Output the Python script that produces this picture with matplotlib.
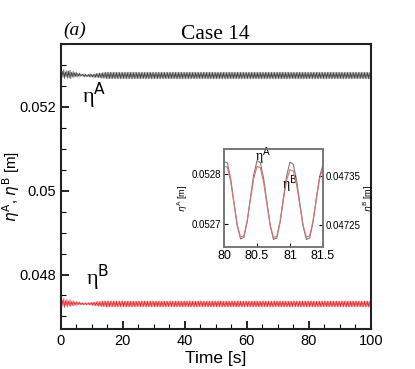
#! /usr/bin/env python3

""" Free-surface elevation at points A and B, Case 14, with a zoomed inset.
"""

import numpy as np
from matplotlib import pyplot as plt
from matplotlib.ticker import MultipleLocator

# main plot: one crest and one trough per 0.5 s wave cycle
period = 0.5
n_cycles = 200

crest_a = ([0.05288, 0.05285, 0.05289, 0.05284, 0.05287, 0.05286, 0.05288,
            0.05283, 0.05285, 0.05282, 0.05283, 0.05280, 0.05281, 0.05279,
            0.05278, 0.05279, 0.05278, 0.05277, 0.05278, 0.05279, 0.05278,
            0.05278, 0.05279, 0.05280, 0.05280, 0.05281, 0.05281, 0.05282,
            0.05282, 0.05283]
           + [0.052830, 0.052826, 0.052829, 0.052827] * 42 + [0.052828, 0.052826])
trough_a = ([0.05268, 0.05270, 0.05267, 0.05271, 0.05268, 0.05269, 0.05267,
             0.05271, 0.05270, 0.05272, 0.05271, 0.05273, 0.05272, 0.05274,
             0.05272, 0.05271, 0.05272, 0.05272, 0.05271, 0.05271, 0.05271,
             0.05270, 0.05270, 0.05270, 0.05269, 0.05269, 0.05268, 0.05268,
             0.05268, 0.05267]
            + [0.052667, 0.052670, 0.052668, 0.052671] * 42 + [0.052667, 0.052669])

crest_b = ([0.04742, 0.04739, 0.04743, 0.04738, 0.04741, 0.04737, 0.04740,
            0.04736, 0.04738, 0.04735, 0.04736, 0.04734, 0.04735, 0.04733,
            0.04733, 0.04732, 0.04733, 0.04732, 0.04733, 0.04733, 0.04734,
            0.04734, 0.04735, 0.04735, 0.04736, 0.04736, 0.04736, 0.04737,
            0.04737, 0.04737]
           + [0.047372, 0.047368, 0.047371, 0.047366] * 42 + [0.047370, 0.047367])
trough_b = ([0.04722, 0.04724, 0.04721, 0.04725, 0.04722, 0.04726, 0.04723,
             0.04726, 0.04725, 0.04727, 0.04726, 0.04728, 0.04727, 0.04728,
             0.04727, 0.04728, 0.04727, 0.04728, 0.04727, 0.04727, 0.04726,
             0.04726, 0.04725, 0.04725, 0.04724, 0.04724, 0.04723, 0.04723,
             0.04723, 0.04722]
            + [0.047225, 0.047228, 0.047226, 0.047229] * 42 + [0.047225, 0.047227])

# inset: 80 s to 81.5 s sampled every 0.05 s
inset_t = np.linspace(80.0, 81.5, 31)
inset_a = [0.052826, 0.052822, 0.052791, 0.052743, 0.052697, 0.052671,
           0.052674, 0.052705, 0.052753, 0.052799, 0.052827, 0.052823,
           0.052792, 0.052744, 0.052698, 0.052670, 0.052673, 0.052704,
           0.052752, 0.052797, 0.052824, 0.052820, 0.052789, 0.052742,
           0.052696, 0.052670, 0.052673, 0.052704, 0.052751, 0.052795,
           0.052818]
inset_b = [0.047370, 0.047368, 0.047339, 0.047294, 0.047250, 0.047225,
           0.047228, 0.047258, 0.047303, 0.047345, 0.047370, 0.047367,
           0.047337, 0.047293, 0.047250, 0.047224, 0.047227, 0.047257,
           0.047302, 0.047342, 0.047363, 0.047360, 0.047333, 0.047291,
           0.047249, 0.047225, 0.047228, 0.047258, 0.047302, 0.047344,
           0.047366]


def zigzag(crest, trough):
    """ Interleave crests and troughs into a single time series. """
    t0 = np.arange(n_cycles) * period
    t = np.column_stack([t0, t0 + period / 2]).ravel()
    y = np.column_stack([crest, trough]).ravel()
    return t, y


plt.rcParams['font.family'] = ['Liberation Sans', 'DejaVu Sans']

fig = plt.figure(figsize=(4.15, 3.69), dpi=100)
ax = fig.add_axes([0.1463, 0.1084, 0.747, 0.7724])

t, y = zigzag(crest_a, trough_a)
ax.plot(t, y, color="#3a3a3a", lw=0.45)
t, y = zigzag(crest_b, trough_b)
ax.plot(t, y, color="#e0242c", lw=0.45)

ax.set_xlim(0, 100)
ax.set_ylim(0.0467, 0.0535)
ax.xaxis.set_major_locator(MultipleLocator(20))
ax.xaxis.set_minor_locator(MultipleLocator(5))
ax.yaxis.set_minor_locator(MultipleLocator(0.0005))
ax.set_yticks([0.048, 0.050, 0.052], ["0.048", "0.05", "0.052"])
ax.tick_params(which="both", direction="in", top=False, right=False,
               labelsize=10.5, width=1.2)
ax.tick_params(which="major", length=6)
ax.tick_params(which="minor", length=3.5, width=0.8)
for s in ax.spines.values():
    s.set_linewidth(1.5)
    s.set_color("#222222")

ax.set_xlabel("Time [s]", fontsize=12.5, labelpad=2)
ax.set_ylabel(r"$\eta^{\mathrm{A}}$, $\eta^{\mathrm{B}}$ [m]", fontsize=11)
ax.yaxis.set_label_coords(-0.125, 0.5)
ax.set_title("Case 14", family="Liberation Serif", fontsize=15.5, pad=3)
fig.text(0.152, 0.905, "(a)", family="Liberation Serif", style="italic",
         fontsize=14)

ax.text(7.0, 0.05226, r"η$^{\mathsf{A}}$", family="Liberation Serif",
        fontsize=16, va="center")
ax.text(8.2, 0.04793, r"η$^{\mathsf{B}}$", family="Liberation Serif",
        fontsize=16, va="center")

# inset
axi = fig.add_axes([0.540, 0.3306, 0.238, 0.2654])
axi.plot(inset_t, inset_a, color="#7a7a7a", lw=0.8)
axi.set_xlim(80, 81.5)
axi.set_ylim(0.052655, 0.05285)
axi.set_xticks([80, 80.5, 81, 81.5], ["80", "80.5", "81", "81.5"])
axi.set_yticks([0.0527, 0.0528], ["0.0527", "0.0528"])
axi.tick_params(axis="x", labelsize=9, direction="in", length=3, pad=2)
axi.tick_params(axis="y", labelsize=7, direction="in", length=3, pad=2)
axi.set_ylabel(r"$\eta^{\mathrm{A}}$ [m]", fontsize=6.5, labelpad=1)
for s in axi.spines.values():
    s.set_color("#777777")
    s.set_linewidth(1.2)

axr = axi.twinx()
axr.plot(inset_t, inset_b, color="#e07070", lw=0.8)
axr.set_ylim(0.047205, 0.047405)
axr.set_yticks([0.04725, 0.04735], ["0.04725", "0.04735"])
axr.tick_params(axis="y", labelsize=7, direction="in", length=3, pad=2)
axr.set_ylabel(r"$\eta^{\mathrm{B}}$ [m]", fontsize=6.5, labelpad=1)
for s in axr.spines.values():
    s.set_color("#777777")
    s.set_linewidth(1.2)

axi.text(80.47, 0.052835, r"η$^{\mathsf{A}}$", family="Liberation Serif",
         fontsize=10, va="center")
axi.text(80.88, 0.05278, r"η$^{\mathsf{B}}$", family="Liberation Serif",
         fontsize=10, va="center")

fig.savefig("out.png", dpi=100)
